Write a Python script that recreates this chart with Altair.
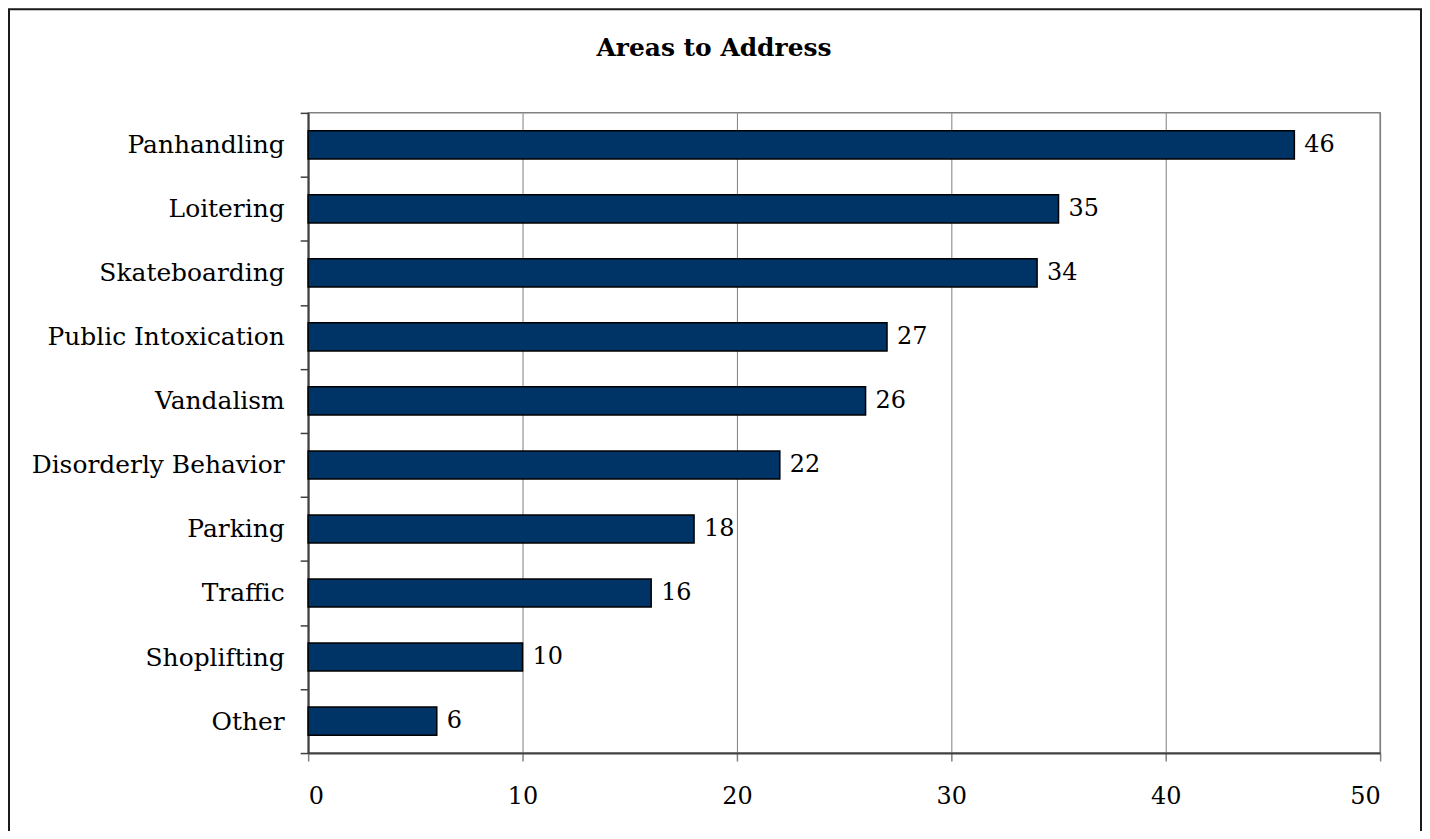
import altair as alt
import pandas as pd

categories = ["Panhandling", "Loitering", "Skateboarding", "Public Intoxication",
              "Vandalism", "Disorderly Behavior", "Parking", "Traffic",
              "Shoplifting", "Other"]
values = [46, 35, 34, 27, 26, 22, 18, 16, 10, 6]
x_ticks = [0, 10, 20, 30, 40, 50]
title_text = ["Areas to Address"]

df = pd.DataFrame({"category": categories, "value": values})
tdf = pd.DataFrame({"t": title_text})

FONT = "DejaVu Serif"

y_enc = alt.Y("category:N", sort=categories, title=None,
              scale=alt.Scale(paddingInner=0, paddingOuter=0),
              axis=alt.Axis(labelFont=FONT, labelFontSize=25, labelColor="#000000",
                            labelLimit=0, labelPadding=16, tickSize=8,
                            tickColor="#404040", tickWidth=1.5, tickBand="extent",
                            domainColor="#404040", domainWidth=2, grid=False))
x_enc = alt.X("value:Q", title=None,
              scale=alt.Scale(domain=[0, 50], nice=False),
              axis=alt.Axis(values=x_ticks, labelFont=FONT, labelFontSize=24,
                            labelColor="#000000", labelPadding=24, tickSize=8,
                            tickColor="#808080", tickWidth=1.5, domainColor="#404040",
                            domainWidth=2, grid=True, gridColor="#808080", gridWidth=1))

bars = alt.Chart(df).mark_bar(color="#003366", stroke="#000000", strokeWidth=1.5,
                              height=alt.RelativeBandSize(0.44)).encode(
    x=x_enc, y=y_enc)

labels = alt.Chart(df).mark_text(align="left", baseline="middle", dx=10,
                                 font=FONT, fontSize=24, color="#000000").encode(
    x="value:Q", y=alt.Y("category:N", sort=categories), text="value:Q")

title = alt.Chart(tdf).mark_text(align="center", baseline="alphabetic", font=FONT,
                                 fontSize=25, fontWeight="bold", color="#000000").encode(
    x=alt.value(407), y=alt.value(-57), text="t:N")

frame = alt.Chart(tdf).mark_rect(fill=None, fillOpacity=0, stroke="#1a1a1a",
                                 strokeWidth=2).encode(
    x=alt.value(-300), x2=alt.value(1116), y=alt.value(-104), y2=alt.value(780))

chart = alt.layer(frame, bars, labels, title).properties(
    width=1075, height=642,
    autosize=alt.AutoSizeParams(type="none"),
    padding={"left": 301, "top": 104, "right": 42, "bottom": 77},
    background="#ffffff",
).configure_view(stroke="#808080", strokeWidth=1.5)

chart.save("out.html", embed_options={"renderer": "svg", "actions": False})
